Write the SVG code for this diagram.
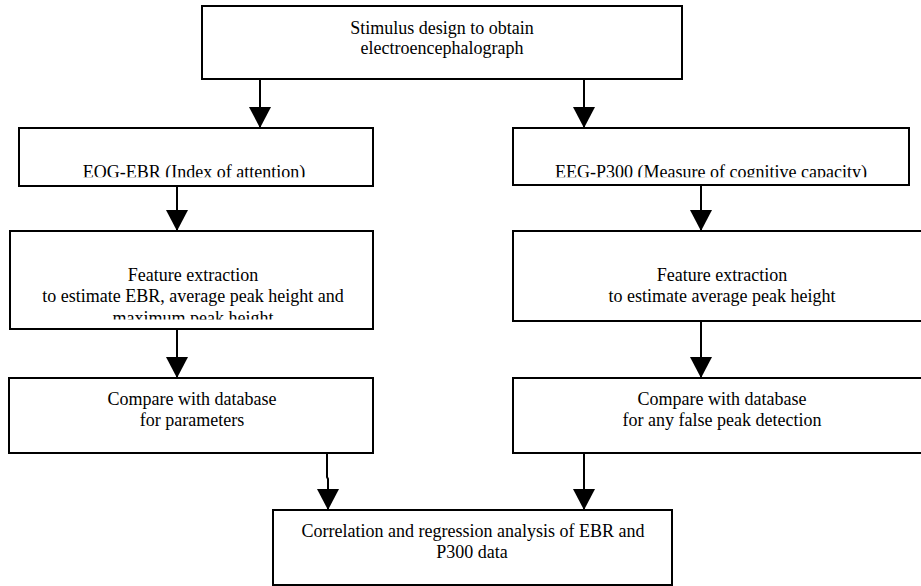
<svg xmlns="http://www.w3.org/2000/svg" width="921" height="586" viewBox="0 0 921 586">
<style>
.box{fill:#fff;stroke:#000;stroke-width:2}
.t{font-size:18px;fill:#000;text-anchor:middle}
.c{fill:none;stroke:#000;stroke-width:2}
</style>
<defs>
<marker id="ah" markerWidth="21" markerHeight="22" refX="20" refY="11" orient="auto" markerUnits="userSpaceOnUse" viewBox="0 0 21 22">
<path d="M0,0 L21,11 L0,22 Z" fill="#000"/>
</marker>
<clipPath id="clipEog"><rect x="19" y="128" width="354" height="49.3"/></clipPath>
<clipPath id="clipEeg"><rect x="513" y="128" width="396" height="49.3"/></clipPath>
<clipPath id="clipFeatL"><rect x="10" y="231" width="363" height="88.5"/></clipPath>
</defs>
<rect width="921" height="586" fill="#fff"/>
<g font-family="Liberation Serif, Times New Roman, serif">
<g id="n-stimulus">
<rect class="box" x="202" y="6" width="480" height="73"/>
<text class="t" x="442" y="33.5">Stimulus design to obtain</text>
<text class="t" x="442" y="54">electroencephalograph</text>
</g>
<g id="n-eog">
<rect class="box" x="19" y="128" width="354" height="58"/>
<text class="t" x="194" y="178" clip-path="url(#clipEog)">EOG-EBR (Index of attention)</text>
</g>
<g id="n-eeg">
<rect class="box" x="513" y="128" width="396" height="57"/>
<text class="t" x="711" y="178" clip-path="url(#clipEeg)">EEG-P300 (Measure of cognitive capacity)</text>
</g>
<g id="n-feat-left">
<rect class="box" x="10" y="231" width="363" height="98"/>
<g clip-path="url(#clipFeatL)">
<text class="t" x="193" y="281">Feature extraction</text>
<text class="t" x="193" y="302">to estimate EBR, average peak height and</text>
<text class="t" x="193" y="323.5">maximum peak height</text>
</g>
</g>
<g id="n-feat-right">
<rect class="box" x="513" y="231" width="420" height="90"/>
<text class="t" x="722" y="281">Feature extraction</text>
<text class="t" x="722" y="302">to estimate average peak height</text>
</g>
<g id="n-cmp-left">
<rect class="box" x="9" y="378" width="364" height="75"/>
<text class="t" x="192" y="405">Compare with database</text>
<text class="t" x="192" y="426">for parameters</text>
</g>
<g id="n-cmp-right">
<rect class="box" x="513" y="378" width="420" height="75"/>
<text class="t" x="722" y="405">Compare with database</text>
<text class="t" x="722" y="426">for any false peak detection</text>
</g>
<g id="n-corr">
<rect class="box" x="273" y="510" width="399" height="75"/>
<text class="t" x="473" y="537">Correlation and regression analysis of EBR and</text>
<text class="t" x="472" y="558">P300 data</text>
</g>
</g>
<g id="connectors">
<path class="c" d="M260,79 V127" marker-end="url(#ah)"/>
<path class="c" d="M584,79 V127" marker-end="url(#ah)"/>
<path class="c" d="M177,186 V230" marker-end="url(#ah)"/>
<path class="c" d="M701,185 V230" marker-end="url(#ah)"/>
<path class="c" d="M177,329 V377" marker-end="url(#ah)"/>
<path class="c" d="M701,321 V377" marker-end="url(#ah)"/>
<path class="c" d="M327,453 V477 L328,479 V509" marker-end="url(#ah)"/>
<path class="c" d="M584,453 V509" marker-end="url(#ah)"/>
</g>
</svg>
